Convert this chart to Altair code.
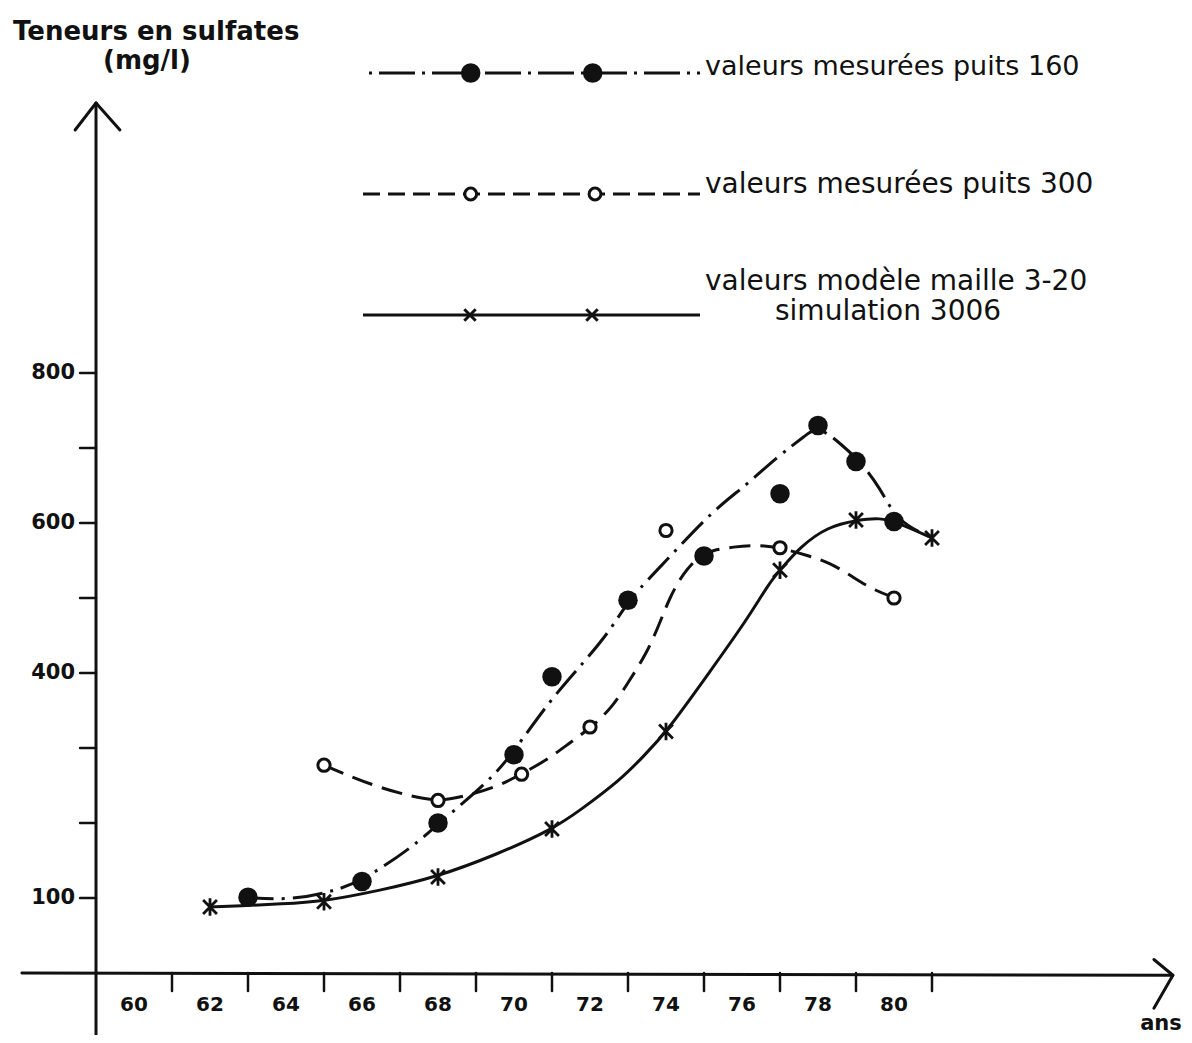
import altair as alt
import pandas as pd

# ------------------------------------------------------------------
# Values
# ------------------------------------------------------------------
title_lines = ["Teneurs en sulfates", "(mg/l)"]
x_title = "ans"

# measured points, well 160 (filled dots)
years_160 = [63, 66, 68, 70, 71, 73, 75, 77, 78, 79, 80]
vals_160 = [101, 122, 200, 291, 395, 497, 556, 639, 730, 682, 602]

# measured points, well 300 (open circles)
years_300 = [65, 68, 70.2, 72, 74, 77, 80]
vals_300 = [277, 230, 265, 328, 590, 567, 500]

# model values, mesh 3-20, simulation 3006 (stars)
years_mod = [62, 65, 68, 71, 74, 77, 79, 81]
vals_mod = [88, 95, 128, 192, 322, 537, 604, 580]

# hand-drawn curves
curve160_x = [62.89, 64.1, 65.16, 65.95, 67.34, 68.03, 69.37, 69.95, 70.95, 71.82,
              72.6, 73.0, 74.03, 75.24, 76.08, 76.92, 77.71, 78.0, 78.66, 79.1,
              79.63, 80.08, 81.03]
curve160_y = [101, 97, 108, 121, 168, 200, 257, 292, 364, 413,
              461, 497, 551, 617, 649, 688, 718, 730, 703, 682,
              648, 601, 580]

curve300_x = [65.0, 65.6, 66.47, 67.34, 68.03, 68.66, 69.55, 70.18, 70.87, 71.47,
              72.05, 72.6, 73.05, 73.5, 73.84, 74.1, 74.45, 74.87, 75.24, 75.76,
              76.39, 77.0, 77.71, 78.32, 78.92, 79.45, 80.03]
curve300_y = [277, 264, 247, 235, 229, 235, 248, 265, 284, 307,
              328, 355, 391, 427, 467, 501, 533, 556, 564, 568,
              571, 567, 557, 547, 528, 511, 500]

curvemod_x = [61.97, 62.97, 63.84, 64.95, 66.47, 67.97, 69.55, 71.03, 71.74, 72.79,
              73.39, 74.03, 75.24, 76.13, 76.74, 77.05, 77.53, 78.24, 79.05, 79.63,
              80.08, 81.0]
curvemod_y = [88, 90, 92, 95, 110, 128, 158, 192, 217, 257,
              288, 322, 408, 471, 522, 540, 568, 595, 604, 607,
              601, 580]

# axis ticks and labels
y_tick_values = [100, 200, 300, 400, 500, 600, 700, 800]
y_label_values = [800, 600, 400, 100]
x_tick_years = [61, 63, 65, 67, 69, 71, 73, 75, 77, 79, 81]
x_label_years = [60, 62, 64, 66, 68, 70, 72, 74, 76, 78, 80]

legend_labels = [
    "valeurs mesurées puits 160",
    "valeurs mesurées puits 300",
    "valeurs modèle maille 3-20",
    "simulation 3006",
]

# ------------------------------------------------------------------
# Layout
# ------------------------------------------------------------------
W, H = 1176, 1027
X_DOMAIN = [56.684, 87.632]
Y_DOMAIN = [-82.67, 1286.67]
xs = alt.Scale(domain=X_DOMAIN, nice=False, zero=False)
ys = alt.Scale(domain=Y_DOMAIN, nice=False, zero=False)
INK = "#111111"

DASHDOT = [30, 8, 3, 8]
DASH = [21, 10]
ASTER = "M-0.8,-0.8L0.8,0.8M-0.8,0.8L0.8,-0.8M0,-1L0,1"
XMARK = "M-1,-1L1,1M-1,1L1,-1"


def qx(f):
    return alt.X(f, type="quantitative", scale=xs, axis=None)


def qy(f):
    return alt.Y(f, type="quantitative", scale=ys, axis=None)


def segments(rows, width=3):
    df = pd.DataFrame(rows, columns=["x", "y", "x2", "y2"])
    return alt.Chart(df).mark_rule(color=INK, strokeWidth=width, strokeCap="round").encode(
        x=qx("x"), y=qy("y"), x2="x2:Q", y2="y2:Q"
    )


# axes (in data units)
axes = segments([
    [59.0, -90, 59.0, 1160],        # vertical axis
    [58.45, 1124, 59.0, 1160],      # arrow head up
    [59.0, 1160, 59.63, 1124],
    [57.05, 0, 87.3, -3],           # horizontal axis
    [86.84, 18, 87.34, -3],         # arrow head right
    [87.34, -3, 86.84, -47],
])

y_ticks = segments([[58.58, v, 59.0, v] for v in y_tick_values], width=2.5)
x_ticks = segments([[yr, 0, yr, -24] for yr in x_tick_years], width=2.5)

y_labels = alt.Chart(pd.DataFrame({"v": y_label_values, "t": [str(v) for v in y_label_values]})).mark_text(
    align="right", baseline="middle", font="DejaVu Sans", fontWeight="bold", fontSize=21, color=INK
).encode(x=alt.value(67), y=qy("v"), text="t:N")

x_labels = alt.Chart(pd.DataFrame({"yr": x_label_years, "t": [str(y) for y in x_label_years]})).mark_text(
    align="center", baseline="middle", font="Liberation Sans Narrow, DejaVu Sans", fontWeight="bold",
    fontSize=20, color=INK
).encode(x=qx("yr"), y=alt.value(997), text="t:N")


def curve(xv, yv, dash=None):
    df = pd.DataFrame({"x": xv, "y": yv, "o": range(len(xv))})
    kw = dict(color=INK, strokeWidth=3, interpolate="basis")
    if dash:
        kw["strokeDash"] = dash
    return alt.Chart(df).mark_line(**kw).encode(x=qx("x"), y=qy("y"), order="o:Q")


c160 = curve(curve160_x, curve160_y, DASHDOT)
c300 = curve(curve300_x, curve300_y, DASH)
cmod = curve(curvemod_x, curvemod_y)

p160 = alt.Chart(pd.DataFrame({"x": years_160, "y": vals_160})).mark_point(
    shape="circle", filled=True, size=380, color=INK, opacity=1
).encode(x=qx("x"), y=qy("y"))
p300 = alt.Chart(pd.DataFrame({"x": years_300, "y": vals_300})).mark_point(
    shape="circle", filled=True, fill="white", stroke=INK, strokeWidth=3, size=150, opacity=1
).encode(x=qx("x"), y=qy("y"))
pmod = alt.Chart(pd.DataFrame({"x": years_mod, "y": vals_mod})).mark_point(
    shape=ASTER, filled=False, size=300, color=INK, strokeWidth=2.8, opacity=1
).encode(x=qx("x"), y=qy("y"))

# ------------------------------------------------------------------
# Legend (pixel layout)
# ------------------------------------------------------------------
ONE = alt.Data(values=[{"k": 1}])


def leg_line(y, x1, x2, dash=None):
    kw = dict(color=INK, strokeWidth=3)
    if dash:
        kw["strokeDash"] = dash
    return alt.Chart(ONE).mark_rule(**kw).encode(
        x=alt.value(x1), x2=alt.value(x2), y=alt.value(y)
    )


def leg_marks(y, xs_px, **kw):
    df = pd.DataFrame({"px": xs_px})
    return alt.Chart(df).mark_point(opacity=1, **kw).encode(
        x=alt.X("px:Q", scale=None, axis=None), y=alt.value(y)
    )


def leg_text(txt, x, y, size=27):
    return alt.Chart(pd.DataFrame({"t": [txt]})).mark_text(
        align="left", baseline="alphabetic", font="DejaVu Sans", fontSize=size, color=INK
    ).encode(x=alt.value(x), y=alt.value(y), text="t:N")


legend = [
    leg_line(65, 361, 692, [3, 7, 36, 7]),
    leg_marks(65, [462.7, 584.7], shape="circle", filled=True, size=380, color=INK),
    leg_text(legend_labels[0], 697, 67),
    leg_line(186, 355, 692, [17, 8]),
    leg_marks(186, [462.7, 587], shape="circle", filled=True, fill="white", stroke=INK,
              strokeWidth=3, size=140),
    leg_text(legend_labels[1], 697, 185, 28),
    leg_line(307, 355, 692),
    leg_marks(307, [462, 584], shape=XMARK, filled=False, size=130, color=INK, strokeWidth=3),
    leg_text(legend_labels[2], 697, 282, 28),
    leg_text(legend_labels[3], 767, 312, 28),
]

titles = [
    alt.Chart(pd.DataFrame({"t": [title_lines[0]]})).mark_text(
        align="left", baseline="alphabetic", font="DejaVu Sans", fontWeight="bold", fontSize=26, color=INK
    ).encode(x=alt.value(5), y=alt.value(32), text="t:N"),
    alt.Chart(pd.DataFrame({"t": [title_lines[1]]})).mark_text(
        align="left", baseline="alphabetic", font="DejaVu Sans", fontWeight="bold", fontSize=26, color=INK
    ).encode(x=alt.value(95), y=alt.value(61), text="t:N"),
    alt.Chart(pd.DataFrame({"t": [x_title]})).mark_text(
        align="center", baseline="middle", font="DejaVu Sans", fontWeight="bold", fontSize=21, color=INK
    ).encode(x=alt.value(1153), y=alt.value(1016), text="t:N"),
]

chart = alt.layer(
    axes, y_ticks, x_ticks, y_labels, x_labels,
    cmod, c300, c160, pmod, p300, p160,
    *legend, *titles
).properties(
    width=W, height=H, padding=0, autosize=alt.AutoSizeParams(type="none"), background="white"
).configure_view(stroke=None)

chart.save("out.html", embed_options={"renderer": "svg", "actions": False})
